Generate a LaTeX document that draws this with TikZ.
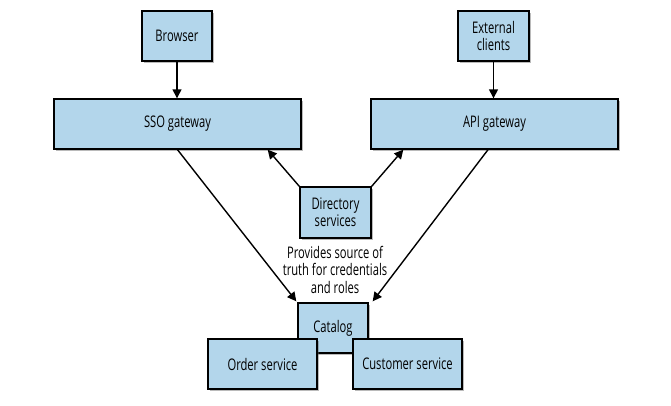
\documentclass[tikz,border=0pt]{standalone}
\usepackage{fontspec}
\setmainfont[FakeStretch=0.7]{Open Sans}
\usetikzlibrary{shadows,arrows.meta,calc}
\definecolor{boxblue}{HTML}{B3D6EB}
\begin{document}
\begin{tikzpicture}[x=1pt,y=-1pt,
  box/.style={draw=black, line width=1.4pt, fill=boxblue, inner sep=0pt,
    drop shadow={shadow xshift=1.6pt, shadow yshift=-1.6pt, opacity=0.45, fill=black!60},
    font=\fontsize{16}{17}\selectfont, align=center},
  conn/.style={line width=1.4pt, -{Triangle[length=9pt,width=9pt]}},
  lbl/.style={font=\fontsize{16}{17.5}\selectfont, align=center, inner sep=0pt}]
\useasboundingbox (0,0) rectangle (671,405);
\node[box, minimum width=70pt, minimum height=50pt] (browser) at (177,36) {Browser};
\node[box, minimum width=71pt, minimum height=50pt] (ext) at (493.5,36) {External\\clients};
\node[box, minimum width=247pt, minimum height=50pt] (sso) at (177.5,124) {SSO gateway};
\node[box, minimum width=247pt, minimum height=50pt] (api) at (494.5,124) {API gateway};
\node[box, minimum width=71pt, minimum height=51pt] (dir) at (335.5,212.5) {Directory\\services};
\node[lbl] (note) at (335,269.5) {Provides source of\\truth for credentials\\and roles};
\node[box, minimum width=70pt, minimum height=50pt] (cat) at (333,328) {Catalog};
\node[box, minimum width=109pt, minimum height=50pt] (order) at (262.5,364) {Order service};
\node[box, minimum width=109pt, minimum height=50pt] (cust) at (407.5,364) {Customer service};
\draw[conn] (browser.south) -- (sso.north -| browser.south);
\draw[conn] (ext.south) -- (api.north -| ext.south);
\draw[conn] (dir.north west) -- ($(sso.south east)+(-34,0)$);
\draw[conn] (dir.north east) -- ($(api.south west)+(33,0)$);
\draw[conn] (sso.south) -- ($(cat.north west)+(-1,-1)$);
\draw[conn] ($(api.south)+(-6.5,0)$) -- ($(cat.north east)+(4,-1)$);
\end{tikzpicture}
\end{document}
